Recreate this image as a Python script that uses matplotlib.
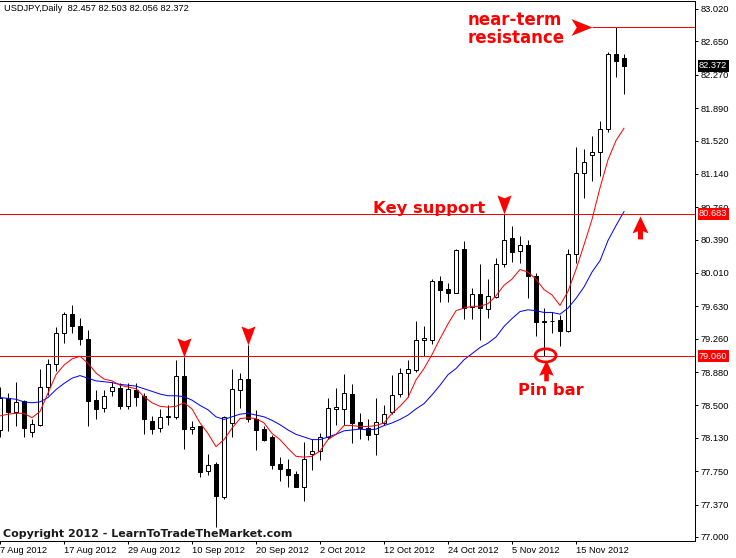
import matplotlib
matplotlib.use('Agg')
import matplotlib.pyplot as plt
from matplotlib.path import Path
from matplotlib.patches import Ellipse

# USDJPY daily bars, 7 Aug 2012 .. 23 Nov 2012
opens = [78.22, 78.58, 78.42, 78.55, 78.20, 78.28, 78.71, 78.97, 79.32, 79.54,
         79.40, 79.26, 78.56, 78.47, 78.66, 78.70, 78.49, 78.68, 78.61, 78.32,
         78.24, 78.37, 78.37, 78.84, 78.23, 78.26, 77.75, 77.83, 77.46, 78.30,
         78.68, 78.80, 78.34, 78.23, 78.14, 77.83, 77.78, 77.72, 77.57, 77.95,
         77.98, 78.14, 78.46, 78.46, 78.63, 78.31, 78.24, 78.17, 78.30, 78.42,
         78.63, 78.87, 78.90, 79.25, 79.25, 79.92, 79.83, 79.78, 80.28, 79.62,
         79.77, 79.60, 79.74, 80.11, 80.41, 80.26, 80.33, 79.98, 79.45, 79.46,
         79.47, 79.35, 80.23, 81.15, 81.35, 81.39, 81.65, 82.51, 82.457]
highs = [78.71, 78.64, 78.77, 78.56, 78.34, 78.91, 79.03, 79.39, 79.56, 79.65,
         79.50, 79.36, 78.68, 78.67, 78.77, 78.76, 78.75, 78.75, 78.64, 78.38,
         78.46, 78.51, 79.02, 79.05, 78.32, 78.26, 77.95, 77.86, 78.38, 78.92,
         78.87, 79.19, 78.45, 78.26, 78.16, 77.91, 77.89, 77.75, 78.08, 78.12,
         78.18, 78.58, 78.70, 78.86, 78.74, 78.41, 78.35, 78.58, 78.51, 78.85,
         78.93, 79.02, 79.46, 79.41, 79.94, 79.98, 79.89, 80.28, 80.37, 79.84,
         80.11, 79.94, 80.18, 80.68, 80.54, 80.43, 80.39, 80.01, 79.61, 79.56,
         79.53, 80.28, 81.45, 81.42, 81.57, 81.74, 82.53, 82.815, 82.503]
lows = [78.14, 78.21, 78.27, 78.14, 78.14, 78.27, 78.62, 78.89, 79.21, 79.32,
        79.19, 78.26, 78.34, 78.43, 78.61, 78.46, 78.46, 78.49, 78.17, 78.17,
        78.20, 78.28, 78.34, 78.00, 78.17, 77.68, 77.71, 77.11, 77.43, 78.14,
        78.47, 78.31, 77.99, 78.09, 77.78, 77.64, 77.57, 77.57, 77.41, 77.76,
        77.88, 78.12, 78.28, 78.28, 78.07, 78.12, 78.10, 77.93, 78.28, 78.40,
        78.60, 78.60, 78.88, 79.06, 79.20, 79.68, 79.68, 79.78, 79.49, 79.48,
        79.25, 79.50, 79.72, 80.08, 80.14, 80.12, 79.73, 79.29, 79.06, 79.33,
        79.18, 79.34, 80.12, 80.87, 81.06, 81.11, 81.62, 82.24, 82.056]
closes = [78.58, 78.42, 78.54, 78.24, 78.29, 78.71, 78.97, 79.32, 79.54, 79.40,
          79.26, 78.55, 78.46, 78.61, 78.71, 78.49, 78.69, 78.60, 78.34, 78.23,
          78.37, 78.38, 78.84, 78.23, 78.25, 77.74, 77.82, 77.47, 78.37, 78.69,
          78.80, 78.34, 78.22, 78.11, 77.82, 77.77, 77.71, 77.57, 77.89, 77.98,
          78.14, 78.47, 78.48, 78.64, 78.30, 78.24, 78.16, 78.31, 78.40, 78.62,
          78.87, 78.91, 79.25, 79.27, 79.92, 79.82, 79.78, 80.27, 79.61, 79.77,
          79.61, 79.75, 80.11, 80.39, 80.25, 80.33, 79.97, 79.45, 79.46, 79.46,
          79.35, 80.23, 81.15, 81.27, 81.39, 81.65, 82.51, 82.43, 82.372]

# moving averages (red = fast, blue = slow)
ma_fast = [78.38, 78.40, 78.41, 78.41, 78.36, 78.43, 78.64, 78.85, 78.96, 79.03,
           79.06, 78.98, 78.87, 78.80, 78.78, 78.73, 78.71, 78.69, 78.60, 78.53,
           78.49, 78.48, 78.49, 78.53, 78.46, 78.30, 78.18, 78.03, 78.11, 78.24,
           78.35, 78.36, 78.35, 78.30, 78.18, 78.11, 78.01, 77.92, 77.91, 77.92,
           77.98, 78.11, 78.17, 78.27, 78.27, 78.26, 78.26, 78.27, 78.30, 78.41,
           78.49, 78.59, 78.79, 78.92, 79.08, 79.26, 79.43, 79.58, 79.61, 79.63,
           79.63, 79.66, 79.75, 79.87, 79.94, 80.05, 80.02, 79.94, 79.82, 79.76,
           79.64, 79.80, 80.05, 80.33, 80.62, 80.98, 81.30, 81.52, 81.66]
ma_slow = [78.59, 78.58, 78.57, 78.54, 78.53, 78.54, 78.59, 78.68, 78.75, 78.81,
           78.84, 78.81, 78.78, 78.77, 78.76, 78.74, 78.73, 78.72, 78.69, 78.66,
           78.63, 78.61, 78.61, 78.60, 78.56, 78.50, 78.45, 78.37, 78.34, 78.37,
           78.40, 78.41, 78.39, 78.37, 78.33, 78.28, 78.22, 78.17, 78.14, 78.11,
           78.11, 78.14, 78.17, 78.21, 78.22, 78.23, 78.22, 78.23, 78.27, 78.30,
           78.34, 78.39, 78.46, 78.52, 78.62, 78.73, 78.85, 78.92, 79.02, 79.09,
           79.16, 79.21, 79.28, 79.40, 79.49, 79.57, 79.59, 79.58, 79.56, 79.56,
           79.54, 79.61, 79.72, 79.85, 80.02, 80.15, 80.38, 80.55, 80.71]

date_labels = ['7 Aug 2012', '17 Aug 2012', '29 Aug 2012', '10 Sep 2012',
               '20 Sep 2012', '2 Oct 2012', '12 Oct 2012', '24 Oct 2012',
               '5 Nov 2012', '15 Nov 2012']
price_ticks = [83.020, 82.650, 82.270, 81.890, 81.520, 81.140, 80.760, 80.390,
               80.010, 79.630, 79.260, 78.880, 78.500, 78.130, 77.750, 77.370,
               77.000]

support = 80.683
pin_level = 79.060
resistance = 82.815

RED = '#ff0000'
PX = 0.72  # one pixel in points

fig = plt.figure(figsize=(7.36, 5.58), dpi=100)
ax = fig.add_axes([0, 17 / 558, 695 / 736, 540 / 558])

n = len(opens)
xs = list(range(n))

# candles
ax.vlines(xs, lows, highs, color='black', lw=PX, zorder=2)
bottoms = [min(o, c) for o, c in zip(opens, closes)]
heights = [max(abs(c - o), 0.004) for o, c in zip(opens, closes)]
faces = ['white' if c >= o else 'black' for o, c in zip(opens, closes)]
ax.bar(xs, heights, bottom=bottoms, width=0.62, color=faces,
       edgecolor='black', linewidth=PX, zorder=3)

# moving averages
ax.plot(xs, ma_slow, color='#0000ff', lw=PX, zorder=4)
ax.plot(xs, ma_fast, color=RED, lw=PX, zorder=4)

# horizontal levels
ax.axhline(support, color=RED, lw=PX, zorder=5)
ax.axhline(pin_level, color=RED, lw=PX, zorder=5)
ax.hlines(resistance, 74, 90, color=RED, lw=PX, zorder=5)

# arrow markers
down_arrow = Path([(0, 0), (-0.37, 1.0), (0, 0.85), (0.37, 1.0), (0, 0)],
                  [Path.MOVETO, Path.LINETO, Path.LINETO, Path.LINETO, Path.CLOSEPOLY])
right_arrow = Path([(0, 0), (-1, 0.4), (-0.75, 0), (-1, -0.4), (0, 0)],
                   [Path.MOVETO, Path.LINETO, Path.LINETO, Path.LINETO, Path.CLOSEPOLY])
up_arrow = Path([(0, 0), (-0.35, -0.74), (-0.11, -0.64), (-0.11, -1.0),
                 (0.11, -1.0), (0.11, -0.64), (0.35, -0.74), (0, 0)],
                [Path.MOVETO] + [Path.LINETO] * 6 + [Path.CLOSEPOLY])

for k in (23, 31, 63):
    ax.plot(k, highs[k], marker=down_arrow, ms=27.4, color=RED, mew=0, zorder=6)
ax.plot(74, resistance, marker=right_arrow, ms=30.2, color=RED, mew=0, zorder=6)
ax.plot(80, 80.66, marker=up_arrow, ms=33, color=RED, mew=0, zorder=6)
ax.plot(68.2, 79.018, marker=up_arrow, ms=30, color=RED, mew=0, zorder=6)
ax.add_patch(Ellipse((68.2, 79.07), 2.6, 0.15, fill=False, ec=RED, lw=2.0, zorder=6))

# annotation texts
ax.text(58.5, 82.895, 'near-term', color=RED, fontsize=12, fontweight='bold',
        ha='left', va='center', zorder=7)
ax.text(58.5, 82.69, 'resistance', color=RED, fontsize=12, fontweight='bold',
        ha='left', va='center', zorder=7)
ax.text(46.6, 80.694, 'Key support', color=RED, fontsize=11.8, fontweight='bold',
        ha='left', va='baseline', zorder=7)
ax.text(68.9, 78.62, 'Pin bar', color=RED, fontsize=11.8, fontweight='bold',
        ha='center', va='baseline', zorder=7)

# axes styling
ax.set_xlim(0, 695 / 8)
ax.set_ylim(76.954, 83.111)
ax.spines['left'].set_visible(False)
for s in ('top', 'right', 'bottom'):
    ax.spines[s].set_linewidth(PX)

ax.yaxis.tick_right()
ax.set_yticks(price_ticks)
ax.set_yticklabels(['%.3f' % p for p in price_ticks], family='Liberation Sans')
ax.set_xticks(range(0, 8 * len(date_labels), 8))
ax.set_xticklabels(date_labels, family='Liberation Sans', ha='left')
ax.tick_params(axis='both', direction='out', length=2.2, width=PX,
               labelsize=6.7, pad=1.5)

# price labels on the scale
for val, bg in ((closes[-1], 'black'), (support, RED), (pin_level, RED)):
    ax.text(1.0058, val, '%.3f' % val, transform=ax.get_yaxis_transform(),
            color='white', fontsize=6.7, family='Liberation Sans',
            ha='left', va='center', zorder=8, clip_on=False,
            bbox=dict(boxstyle='square,pad=0.15', fc=bg, ec='none'))

fig.text(4 / 736, 1 - 8.5 / 558,
         'USDJPY,Daily  %.3f %.3f %.3f %.3f' % (opens[-1], highs[-1], lows[-1], closes[-1]),
         fontsize=6.7, family='Liberation Sans', ha='left', va='center')
fig.text(3 / 736, 21 / 558, 'Copyright 2012 - LearnToTradeTheMarket.com',
         fontsize=8, fontweight='bold', color='#1a1a1a', ha='left', va='baseline')

fig.savefig('out.png', dpi=100)
